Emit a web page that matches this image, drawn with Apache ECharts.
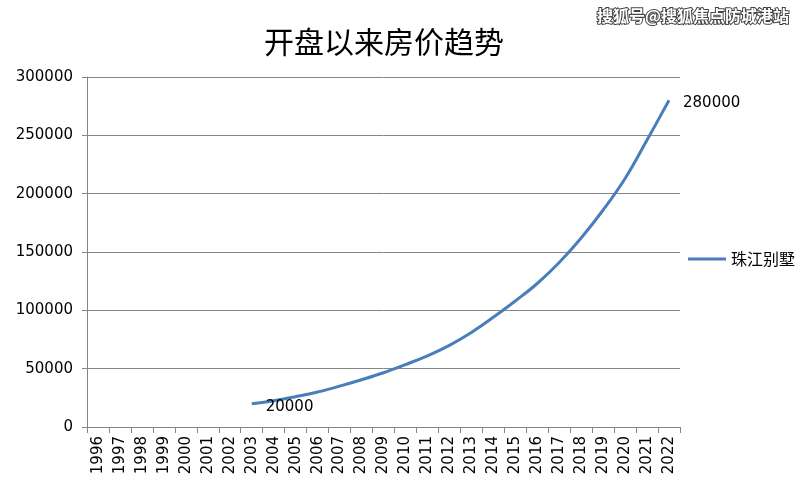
<!DOCTYPE html>
<html>
<head>
<meta charset="utf-8">
<script src="https://cdn.jsdelivr.net/npm/echarts@6/dist/echarts.min.js"></script>
<style>html,body{margin:0;padding:0;background:#fff;}#c{width:809px;height:496px;}</style>
</head>
<body>
<div id="c"></div>
<script>
var years = ['1996','1997','1998','1999','2000','2001','2002','2003','2004','2005','2006','2007','2008','2009','2010','2011','2012','2013','2014','2015','2016','2017','2018','2019','2020','2021','2022'];
var seriesName = '珠江别墅';
var prices = ['-','-','-','-','-','-','-',20000,22500,26000,30000,35000,40500,46500,53500,61000,70000,81000,94000,108000,123000,141000,162000,186000,213000,246000,280000];
var yTicks = [0,50000,100000,150000,200000,250000,300000];
var titleText = '开盘以来房价趋势';
var watermark = '搜狐号@搜狐焦点防城港站';

var firstIdx = prices.findIndex(function(v){return v !== '-';});
var lastIdx = prices.length - 1;

var chart = echarts.init(document.getElementById('c'));
chart.setOption({
  animation: false,
  backgroundColor: '#fff',
  title: {
    text: titleText, left: 379, top: 22, textAlign: 'center',
    textStyle: {fontFamily: 'Noto Sans CJK SC', fontSize: 30, fontWeight: 'normal', color: '#000'}
  },
  graphic: [{
    type: 'text', right: 19, top: 7,
    style: {text: watermark, fontFamily: 'Noto Sans CJK SC', fontSize: 16, fontWeight: 'bold',
      fill: '#fff', stroke: '#444', lineWidth: 2}
  }],
  legend: {
    orient: 'vertical', left: 683, top: 246,
    data: [seriesName], icon: 'rect', itemWidth: 38, itemHeight: 3, itemGap: 4,
    textStyle: {fontFamily: 'Noto Sans CJK SC', fontSize: 16, color: '#000'}
  },
  grid: {left: 87, right: 129, top: 77, bottom: 69, containLabel: false},
  xAxis: {
    type: 'category', data: years, boundaryGap: true,
    axisLine: {lineStyle: {color: '#868686'}},
    axisTick: {show: true, alignWithLabel: false, length: 6, lineStyle: {color: '#868686'}},
    axisLabel: {rotate: 90, interval: 0, fontFamily: 'DejaVu Sans', fontSize: 15, color: '#000', margin: 9}
  },
  yAxis: {
    type: 'value', min: 0, max: 300000, interval: 50000,
    axisLine: {show: true, lineStyle: {color: '#868686'}},
    axisTick: {show: true, length: 5, lineStyle: {color: '#868686'}},
    splitLine: {lineStyle: {color: '#868686'}},
    axisLabel: {fontFamily: 'DejaVu Sans', fontSize: 15, color: '#000', margin: 14,
      formatter: function(v){ return String(v); }}
  },
  series: [{
    name: seriesName, type: 'line', data: prices, smooth: 0.4,
    symbol: 'circle', symbolSize: 0, showSymbol: true, connectNulls: false,
    lineStyle: {color: '#4a7ebb', width: 3},
    itemStyle: {color: '#4a7ebb'},
    label: {
      show: true, position: 'right', distance: 14, offset: [0, 3],
      fontFamily: 'DejaVu Sans', fontSize: 15, color: '#000',
      formatter: function(p){ return (p.dataIndex === firstIdx || p.dataIndex === lastIdx) ? String(p.value) : ''; }
    }
  }]
});
</script>
</body>
</html>
